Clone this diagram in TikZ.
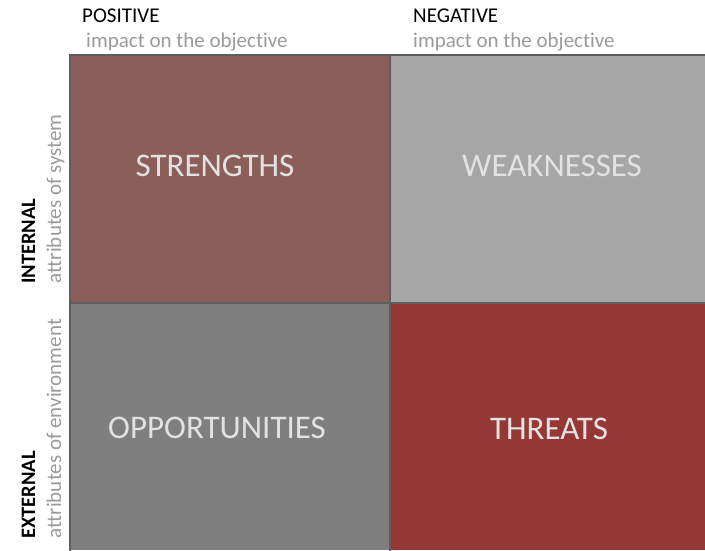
\documentclass[tikz,border=0pt]{standalone}
\usepackage{fontspec}
\setmainfont{Carlito}[Ligatures=NoCommon]
\usetikzlibrary{positioning}

\definecolor{strengthcol}{HTML}{8B5E5A}
\definecolor{weakcol}{HTML}{A6A6A6}
\definecolor{oppcol}{HTML}{7F7F7F}
\definecolor{threatcol}{HTML}{953735}
\definecolor{gridcol}{HTML}{5E5E5E}
\definecolor{subcol}{HTML}{9A9A9A}
\definecolor{bigcol}{HTML}{E2E2E2}

\tikzset{
  gridline/.style={gridcol, line width=2.2pt},
  heading/.style={inner sep=0pt, text=black, font=\fontsize{21}{24}\selectfont},
  rowheading/.style={inner sep=0pt, text=black, font=\fontsize{20.5}{24}\selectfont\bfseries},
  subheading/.style={inner sep=0pt, text=subcol, font=\fontsize{21}{24}\selectfont},
  bigtext/.style={inner sep=0pt, text=bigcol, font=\fontsize{33}{38}\selectfont}
}

\begin{document}
\begin{tikzpicture}[x=1pt,y=-1pt]
    \useasboundingbox (0,0) rectangle (705,550);
    % quadrants
    \fill[strengthcol] (70,55) rectangle (390,303);
    \fill[weakcol] (390,55) rectangle (705,303);
    \fill[oppcol] (70,303) rectangle (390,550);
    \fill[threatcol] (390,303) rectangle (705,550);
    \draw[gridline] (70,551) -- (70,55) -- (705,55);
    \draw[gridline] (390,55) -- (390,551);
    \draw[gridline] (70,303) -- (705,303);
    % quadrant names
    \node[bigtext] (strengths) at (215,166) {STRENGTHS};
    \node[bigtext] (weaknesses) at (552,166) {WEAKNESSES};
    \node[bigtext] (opportunities) at (217,428) {OPPORTUNITIES};
    \node[bigtext] (threats) at (549,429) {THREATS};
    % column headings
    \node[heading, anchor=base west] (positive) at (82,22) {POSITIVE};
    \node[subheading, anchor=base west] (posimpact) at (86,47) {impact on the objective};
    \node[heading, anchor=base west] (negative) at (413,22) {NEGATIVE};
    \node[subheading, anchor=base west] (negimpact) at (413,47) {impact on the objective};
    % row headings
    \node[rowheading, rotate=90, anchor=base west] (internal) at (35,284) {INTERNAL};
    \node[subheading, rotate=90, anchor=base west] (intattr) at (61,284) {attributes of system};
    \node[rowheading, rotate=90, anchor=base west] (external) at (35,539) {EXTERNAL};
    \node[subheading, rotate=90, anchor=base west] (extattr) at (61,539) {attributes of environment};
\end{tikzpicture}
\end{document}
